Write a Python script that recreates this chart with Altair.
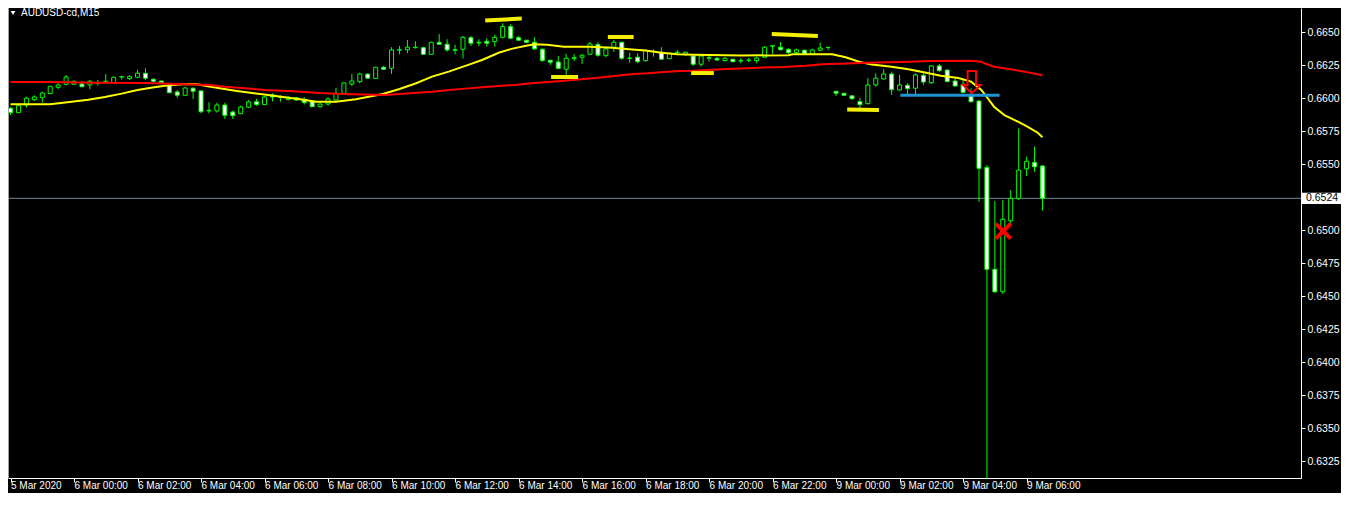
import altair as alt
import pandas as pd

FONT = "Liberation Sans"
symbol_title = "AUDUSD-cd,M15"

bar_index = list(range(131))
opens = [
    0.65922, 0.65889, 0.65947, 0.65987, 0.66002, 0.66033, 0.66081, 0.66104, 0.66104, 0.66106,
    0.66099, 0.66110, 0.66124, 0.66116, 0.66159, 0.66147, 0.66157, 0.66187, 0.66142, 0.66129,
    0.66096, 0.66046, 0.66021, 0.66074, 0.66054, 0.65907, 0.65902, 0.65947, 0.65894, 0.65881,
    0.65930, 0.65972, 0.65950, 0.66023, 0.66008, 0.65987, 0.66002, 0.65990, 0.65972, 0.65934,
    0.65954, 0.65985, 0.66036, 0.66106, 0.66124, 0.66181, 0.66147, 0.66233, 0.66225, 0.66362,
    0.66366, 0.66381, 0.66381, 0.66331, 0.66422, 0.66407, 0.66366, 0.66369, 0.66457, 0.66422,
    0.66430, 0.66427, 0.66460, 0.66541, 0.66457, 0.66438, 0.66422, 0.66369, 0.66286, 0.66273,
    0.66218, 0.66298, 0.66309, 0.66331, 0.66404, 0.66321, 0.66385, 0.66422, 0.66303, 0.66309,
    0.66283, 0.66351, 0.66347, 0.66298, 0.66343, 0.66331, 0.66318, 0.66256, 0.66301, 0.66301,
    0.66283, 0.66294, 0.66283, 0.66286, 0.66283, 0.66309, 0.66392, 0.66385, 0.66369, 0.66343,
    0.66362, 0.66331, 0.66362, 0.66383, 0.66051, 0.66036, 0.66016, 0.65972, 0.65957, 0.66099,
    0.66144, 0.66182, 0.66061, 0.66096, 0.66074, 0.66172, 0.66116, 0.66243, 0.66212, 0.66129,
    0.66104, 0.66018, 0.65977, 0.65474, 0.64702, 0.64532, 0.65070, 0.65240, 0.65464, 0.65512,
    0.65485,
]
highs = [
    0.65932, 0.65951, 0.66010, 0.66021, 0.66048, 0.66091, 0.66112, 0.66175, 0.66133, 0.66129,
    0.66137, 0.66137, 0.66182, 0.66162, 0.66169, 0.66172, 0.66215, 0.66225, 0.66150, 0.66131,
    0.66101, 0.66061, 0.66085, 0.66081, 0.66055, 0.65968, 0.65965, 0.65965, 0.65904, 0.65942,
    0.65985, 0.65993, 0.66016, 0.66036, 0.66021, 0.66010, 0.66008, 0.66006, 0.65981, 0.65960,
    0.66006, 0.66076, 0.66121, 0.66181, 0.66192, 0.66187, 0.66235, 0.66243, 0.66385, 0.66394,
    0.66440, 0.66430, 0.66389, 0.66425, 0.66485, 0.66445, 0.66404, 0.66470, 0.66470, 0.66445,
    0.66453, 0.66478, 0.66566, 0.66559, 0.66470, 0.66440, 0.66460, 0.66374, 0.66288, 0.66318,
    0.66334, 0.66331, 0.66331, 0.66425, 0.66422, 0.66389, 0.66440, 0.66427, 0.66343, 0.66339,
    0.66369, 0.66369, 0.66385, 0.66343, 0.66364, 0.66351, 0.66326, 0.66326, 0.66321, 0.66309,
    0.66311, 0.66296, 0.66301, 0.66303, 0.66313, 0.66394, 0.66402, 0.66425, 0.66377, 0.66374,
    0.66366, 0.66374, 0.66419, 0.66385, 0.66054, 0.66038, 0.66023, 0.66000, 0.66150, 0.66188,
    0.66218, 0.66200, 0.66175, 0.66112, 0.66187, 0.66187, 0.66250, 0.66258, 0.66216, 0.66150,
    0.66137, 0.66074, 0.65985, 0.65492, 0.65219, 0.65227, 0.65303, 0.65770, 0.65555, 0.65631,
    0.65492,
]
lows = [
    0.65871, 0.65886, 0.65927, 0.65977, 0.65965, 0.66031, 0.66066, 0.66094, 0.66099, 0.66083,
    0.66066, 0.66094, 0.66112, 0.66114, 0.66139, 0.66137, 0.66150, 0.66137, 0.66119, 0.66110,
    0.66036, 0.66002, 0.66016, 0.65993, 0.65884, 0.65884, 0.65889, 0.65841, 0.65841, 0.65879,
    0.65922, 0.65940, 0.65947, 0.65975, 0.65972, 0.65983, 0.65977, 0.65950, 0.65932, 0.65930,
    0.65942, 0.65981, 0.66031, 0.66091, 0.66112, 0.66144, 0.66144, 0.66212, 0.66182, 0.66331,
    0.66339, 0.66377, 0.66328, 0.66328, 0.66404, 0.66351, 0.66331, 0.66299, 0.66394, 0.66394,
    0.66389, 0.66389, 0.66453, 0.66447, 0.66432, 0.66417, 0.66364, 0.66275, 0.66251, 0.66220,
    0.66175, 0.66281, 0.66258, 0.66326, 0.66313, 0.66309, 0.66349, 0.66288, 0.66268, 0.66263,
    0.66275, 0.66313, 0.66288, 0.66296, 0.66326, 0.66321, 0.66243, 0.66237, 0.66275, 0.66281,
    0.66275, 0.66271, 0.66263, 0.66273, 0.66263, 0.66306, 0.66334, 0.66359, 0.66336, 0.66331,
    0.66331, 0.66328, 0.66356, 0.66364, 0.66016, 0.66018, 0.65985, 0.65922, 0.65951, 0.66086,
    0.66140, 0.66023, 0.66055, 0.66016, 0.66023, 0.66099, 0.66106, 0.66200, 0.66121, 0.66087,
    0.66036, 0.65965, 0.65214, 0.63067, 0.64524, 0.64514, 0.65030, 0.65227, 0.65409, 0.65441,
    0.65146,
]
closes = [
    0.65889, 0.65942, 0.65998, 0.66008, 0.66038, 0.66089, 0.66099, 0.66159, 0.66127, 0.66085,
    0.66127, 0.66118, 0.66127, 0.66157, 0.66162, 0.66162, 0.66188, 0.66150, 0.66127, 0.66116,
    0.66040, 0.66021, 0.66076, 0.66051, 0.65896, 0.65902, 0.65947, 0.65869, 0.65866, 0.65932,
    0.65971, 0.65950, 0.66008, 0.66008, 0.66006, 0.66006, 0.65985, 0.65965, 0.65934, 0.65954,
    0.65993, 0.66036, 0.66114, 0.66129, 0.66182, 0.66150, 0.66233, 0.66218, 0.66364, 0.66366,
    0.66385, 0.66385, 0.66331, 0.66422, 0.66407, 0.66364, 0.66362, 0.66460, 0.66415, 0.66417,
    0.66415, 0.66460, 0.66541, 0.66453, 0.66438, 0.66422, 0.66372, 0.66283, 0.66271, 0.66225,
    0.66301, 0.66306, 0.66324, 0.66410, 0.66324, 0.66372, 0.66422, 0.66301, 0.66301, 0.66275,
    0.66359, 0.66354, 0.66294, 0.66339, 0.66347, 0.66347, 0.66256, 0.66318, 0.66306, 0.66288,
    0.66301, 0.66275, 0.66281, 0.66286, 0.66303, 0.66385, 0.66396, 0.66366, 0.66343, 0.66364,
    0.66336, 0.66364, 0.66379, 0.66383, 0.66036, 0.66021, 0.65995, 0.65950, 0.66099, 0.66150,
    0.66182, 0.66063, 0.66099, 0.66071, 0.66175, 0.66121, 0.66243, 0.66207, 0.66124, 0.66091,
    0.66043, 0.65972, 0.65467, 0.64702, 0.64532, 0.65081, 0.65240, 0.65454, 0.65520, 0.65479,
    0.65240,
]

# moving averages
yellow_bar = [0, 5, 7.7, 9.8, 11.9, 14, 16, 18.1, 20.2, 22.3,
              23.5, 25.2, 28.5, 32.7, 36.9, 38.5, 41, 43.5, 46.9, 49,
              51.1, 53.1, 55.2, 57.3, 59.4, 61.5, 63.1, 64.8, 66, 67.6,
              69.7, 73, 75.8, 77.9, 80, 82, 84, 86, 92, 98,
              98.5, 103.5, 105.2, 106.9, 108.5, 111, 113.1, 115.2, 117.2, 119.4,
              121, 122.3, 123.1, 123.9, 125.2, 126.5, 128.1, 129.4, 130]
yellow_price = [0.65952, 0.65952, 0.65972, 0.65987, 0.66008, 0.66033, 0.66061, 0.66081, 0.66099, 0.66106,
                0.66104, 0.66085, 0.66053, 0.66021, 0.65987, 0.65972, 0.65972, 0.65990, 0.66031, 0.66068,
                0.66112, 0.66162, 0.66200, 0.66243, 0.66288, 0.66343, 0.66372, 0.66394, 0.66407, 0.66404,
                0.66389, 0.66389, 0.66381, 0.66369, 0.66359, 0.66343, 0.66331, 0.66328, 0.66322, 0.66324,
                0.66331, 0.66331, 0.66309, 0.66275, 0.66253, 0.66237, 0.66218, 0.66193, 0.66169, 0.66152,
                0.66124, 0.66061, 0.65998, 0.65934, 0.65871, 0.65833, 0.65783, 0.65737, 0.65702]
red_bar = [0, 5, 11, 17, 21, 25, 27, 30, 32, 35,
           37, 39, 41, 43, 47, 49, 53.1, 55.2, 57.3, 59.4,
           61.5, 63.5, 65.6, 67.7, 69.8, 71.9, 74, 76, 78.1, 80.2,
           82.3, 84.4, 86, 90.2, 94.4, 97.3, 100.2, 102.3, 104.4, 109,
           112.3, 116, 121, 122.3, 122.7, 123.9, 125.2, 126.5, 128.1, 130]
red_price = [0.66121, 0.66121, 0.66116, 0.66114, 0.66106, 0.66099, 0.66085, 0.66072, 0.66061, 0.66053,
             0.66046, 0.66038, 0.66033, 0.66028, 0.66023, 0.66031, 0.66048, 0.66061, 0.66071, 0.66081,
             0.66091, 0.66099, 0.66112, 0.66121, 0.66131, 0.66142, 0.66154, 0.66167, 0.66180, 0.66187,
             0.66197, 0.66205, 0.66207, 0.66220, 0.66230, 0.66235, 0.66245, 0.66256, 0.66260, 0.66268,
             0.66273, 0.66281, 0.66283, 0.66275, 0.66263, 0.66237, 0.66225, 0.66212, 0.66195, 0.66172]

# hand-drawn objects
hl_bar1 = [59.8, 68.1, 75.25, 85.75, 95.9, 105.4]
hl_bar2 = [64.4, 71.5, 78.5, 88.6, 101.7, 109.4]
hl_price1 = [0.66587, 0.66159, 0.66462, 0.66189, 0.66485, 0.65912]
hl_price2 = [0.66602, 0.66159, 0.66462, 0.66189, 0.66470, 0.65909]
blue_bar = [112.1, 124.6]
blue_price = [0.66020, 0.66020]
arrow_bar = [121.1]
arrow_price = [0.66121]
cross_bar = [125.06]
cross_price = [0.64992]

tick_bars = list(range(0, 129, 8))
x_labels = ["5 Mar 2020", "6 Mar 00:00", "6 Mar 02:00", "6 Mar 04:00", "6 Mar 06:00",
            "6 Mar 08:00", "6 Mar 10:00", "6 Mar 12:00", "6 Mar 14:00", "6 Mar 16:00",
            "6 Mar 18:00", "6 Mar 20:00", "6 Mar 22:00", "9 Mar 00:00", "9 Mar 02:00",
            "9 Mar 04:00", "9 Mar 06:00"]
y_ticks = [0.6650, 0.6625, 0.6600, 0.6575, 0.6550, 0.6500, 0.6475, 0.6450,
           0.6425, 0.6400, 0.6375, 0.6350, 0.6325]
current_price = [0.6524]
current_label = ["0.6524"]

# ---- layout ----
W, H = 1293, 470
TOTAL_W, TOTAL_H = 1333, 485
PX_PER_BAR = 8
PX_PER_UNIT = 13200
x_lo = 0.3125
x_hi = x_lo + W / PX_PER_BAR
y_hi = 0.6650 + 24 / PX_PER_UNIT
y_lo = y_hi - H / PX_PER_UNIT

xs = alt.Scale(domain=[x_lo, x_hi], nice=False, zero=False)
ys = alt.Scale(domain=[y_lo, y_hi], nice=False, zero=False)

label_expr = "[" + ",".join("'%s'" % s for s in x_labels) + "][round(datum.value / 8)]"
xaxis = alt.Axis(values=tick_bars, labelExpr=label_expr, orient="bottom", title=None, grid=False,
                 domainColor="#ffffff", tickColor="#ffffff", tickSize=4, labelColor="#ffffff",
                 labelFont=FONT, labelFontSize=10, labelAlign="left", labelBaseline="top",
                 labelPadding=-2, labelFlush=False, labelOverlap=False)
yaxis = alt.Axis(values=y_ticks, format=".4f", orient="right", title=None, grid=False,
                 domainColor="#ffffff", tickColor="#ffffff", tickSize=4, labelColor="#ffffff",
                 labelFont=FONT, labelFontSize=10.5, labelPadding=2, labelFlush=False,
                 labelOverlap=False)


def X(f):
    return alt.X(f"{f}:Q", scale=xs, axis=xaxis)


def Y(f):
    return alt.Y(f"{f}:Q", scale=ys, axis=yaxis)


df = pd.DataFrame({"bar": bar_index, "open": opens, "high": highs, "low": lows, "close": closes})
df["dir"] = ["up" if c >= o else "down" for o, c in zip(opens, closes)]

ma_y = pd.DataFrame({"bar": yellow_bar, "p": yellow_price})
ma_r = pd.DataFrame({"bar": red_bar, "p": red_price})
hl = pd.DataFrame({"b1": hl_bar1, "b2": hl_bar2, "p1": hl_price1, "p2": hl_price2})
blue = pd.DataFrame({"b1": [blue_bar[0]], "b2": [blue_bar[1]], "p1": [blue_price[0]], "p2": [blue_price[1]]})
arrow = pd.DataFrame({"bar": arrow_bar, "p": arrow_price})
cross = pd.DataFrame({"bar": cross_bar, "p": cross_price})
cur = pd.DataFrame({"p": current_price, "t": current_label})
one = pd.DataFrame({"t": [symbol_title]})

price_line = alt.Chart(cur).mark_rule(color="#778899", strokeWidth=1).encode(y=Y("p"))

wicks = alt.Chart(df).mark_rule(color="#00ff00", strokeWidth=1, clip=True).encode(
    x=X("bar"), y=Y("low"), y2=alt.Y2("high:Q"))

bodies = alt.Chart(df).mark_bar(size=4, stroke="#00ff00", strokeWidth=1, opacity=1, clip=True).encode(
    x=X("bar"), y=Y("open"), y2=alt.Y2("close:Q"),
    fill=alt.Fill("dir:N", scale=alt.Scale(domain=["up", "down"], range=["#000000", "#ffffff"]),
                  legend=None))

yellow_line = alt.Chart(ma_y).mark_line(color="#ffff00", strokeWidth=2, clip=True).encode(
    x=X("bar"), y=Y("p"))
red_line = alt.Chart(ma_r).mark_line(color="#ff0000", strokeWidth=2, clip=True).encode(
    x=X("bar"), y=Y("p"))

highlights = alt.Chart(hl).mark_rule(color="#f2f000", strokeWidth=4, strokeCap="butt").encode(
    x=X("b1"), x2=alt.X2("b2:Q"), y=Y("p1"), y2=alt.Y2("p2:Q"))
blue_seg = alt.Chart(blue).mark_rule(color="#1e96d6", strokeWidth=3).encode(
    x=X("b1"), x2=alt.X2("b2:Q"), y=Y("p1"), y2=alt.Y2("p2:Q"))

arrow_path = "M -0.38 -1 L 0.38 -1 L 0.38 0.27 L 0.79 0.27 L 0 1 L -0.79 0.27 L -0.38 0.27 Z"
arrow_mark = alt.Chart(arrow).mark_point(shape=arrow_path, filled=False, stroke="#ff0000",
                                         strokeWidth=2, size=497, opacity=1).encode(
    x=X("bar"), y=Y("p"))
cross_mark = alt.Chart(cross).mark_point(shape="M -1 -1 L 1 1 M 1 -1 L -1 1", filled=False,
                                         stroke="#ff0000", strokeWidth=4, size=225, opacity=1).encode(
    x=X("bar"), y=Y("p"))

label_box = alt.Chart(cur).mark_point(shape="M -1 -0.28 L 1 -0.28 L 1 0.28 L -1 0.28 Z", filled=True,
                                      fill="#ffffff", strokeWidth=0, size=1600, opacity=1).encode(
    x=alt.value(W + 21), y=Y("p"))
label_txt = alt.Chart(cur).mark_text(align="left", baseline="middle", color="#000000", font=FONT,
                                     fontSize=10.5).encode(
    x=alt.value(W + 5), y=Y("p"), text="t:N")

border = alt.Chart(one).mark_rule(color="#a0a0a0", strokeWidth=1).encode(
    x=alt.value(0.5), y=alt.value(0), y2=alt.value(H))
title_tri = alt.Chart(one).mark_point(shape="triangle-down", filled=True, color="#ffffff", size=22,
                                      opacity=1).encode(x=alt.value(5), y=alt.value(5))
title_txt = alt.Chart(one).mark_text(align="left", baseline="middle", color="#ffffff", font=FONT,
                                     fontSize=10).encode(x=alt.value(13), y=alt.value(5), text="t:N")

chart = alt.layer(
    price_line, wicks, bodies, yellow_line, red_line, highlights, blue_seg,
    arrow_mark, cross_mark, label_box, label_txt, border, title_tri, title_txt
).properties(
    width=W, height=H,
    autosize=alt.AutoSizeParams(type="none"),
    padding={"left": 0, "top": 0, "right": TOTAL_W - W, "bottom": TOTAL_H - H},
    background="#000000",
).configure_view(strokeWidth=0)

chart.save("out.html", embed_options={"renderer": "svg", "actions": False})
